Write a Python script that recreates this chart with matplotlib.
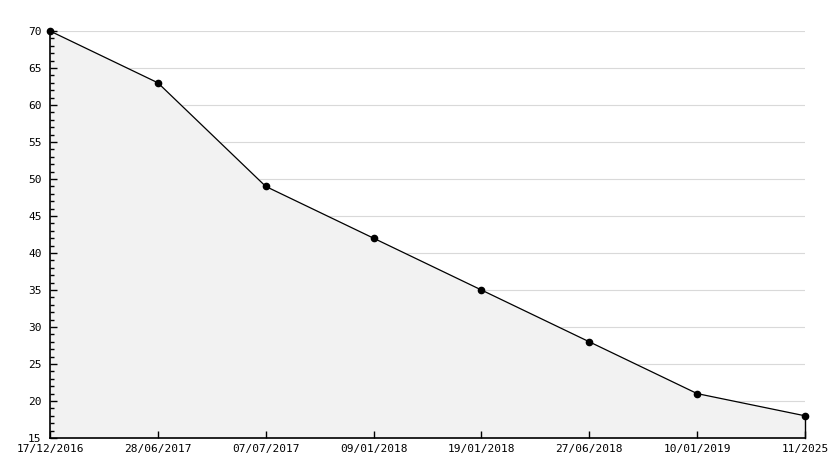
import matplotlib
matplotlib.use("Agg")
import matplotlib.pyplot as plt
from matplotlib.ticker import MultipleLocator

dates = ["17/12/2016", "28/06/2017", "07/07/2017", "09/01/2018",
         "19/01/2018", "27/06/2018", "10/01/2019", "11/2025"]
values = [70, 63, 49, 42, 35, 28, 21, 18]
grid_levels = [20, 25, 30, 35, 40, 45, 50, 55, 60, 65, 70]

plt.rcParams['font.family'] = 'DejaVu Sans Mono'

fig = plt.figure(figsize=(8.34, 4.68), dpi=100)
ax = fig.add_axes([50 / 834, 1 - 438 / 468, 755 / 834, 407 / 468])

x = list(range(len(dates)))
for g in grid_levels:
    ax.axhline(g, color='#d9d9d9', lw=0.8, zorder=0.5)
ax.fill_between(x, values, 15, color='#f2f2f2', zorder=1)
ax.plot([x[-1], x[-1]], [15, values[-1]], color='black', lw=1, zorder=3, clip_on=False)
ax.plot(x, values, color='black', lw=0.9, marker='o', ms=4.5, zorder=4, clip_on=False)

ax.set_xlim(0, len(dates) - 1)
ax.set_ylim(15, 70)
ax.set_xticks(x)
ax.set_xticklabels(dates)
ax.yaxis.set_major_locator(MultipleLocator(5))
ax.yaxis.set_minor_locator(MultipleLocator(1))

for s in ['top', 'right']:
    ax.spines[s].set_visible(False)
for s in ['left', 'bottom']:
    ax.spines[s].set_linewidth(1.2)
    ax.spines[s].set_zorder(5)

ax.tick_params(axis='y', which='major', direction='in', length=5, width=1, pad=6, labelsize=8)
ax.tick_params(axis='y', which='minor', direction='in', length=3, width=1)
ax.tick_params(axis='x', which='major', direction='in', length=5, width=1, pad=4, labelsize=8)

fig.savefig("out.png", dpi=100)
